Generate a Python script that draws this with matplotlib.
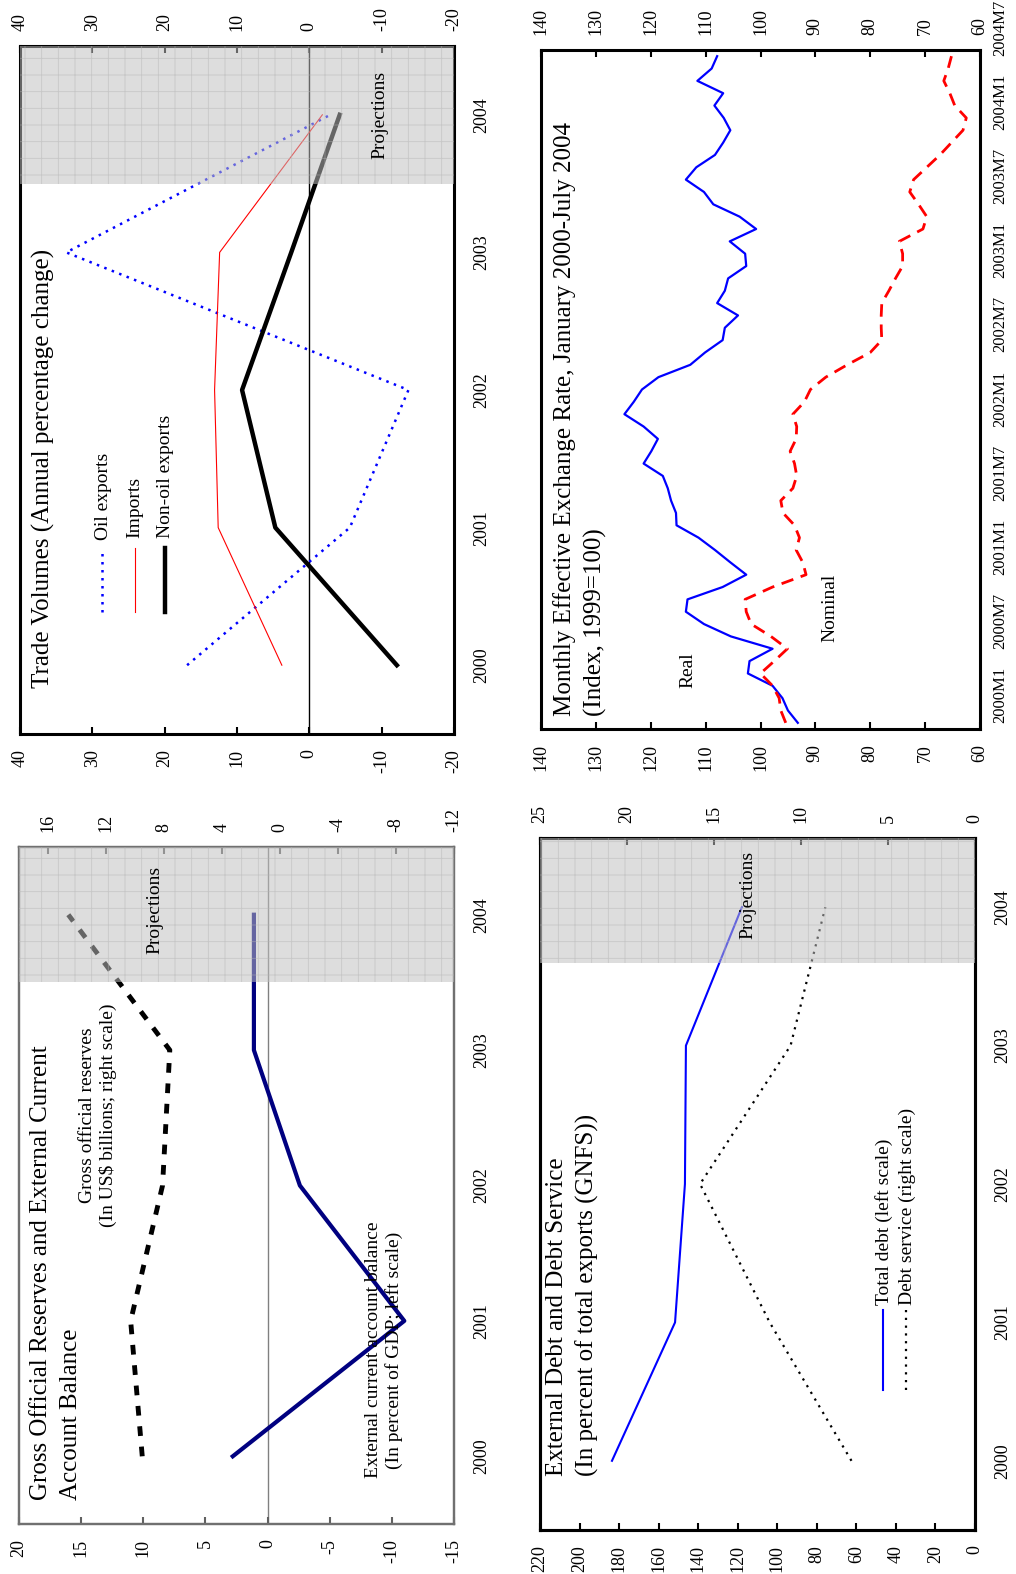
import matplotlib
matplotlib.use("Agg")
import matplotlib.pyplot as plt

plt.rcParams['font.family'] = ['Liberation Serif', 'DejaVu Serif']
plt.rcParams['hatch.linewidth'] = 0.6
plt.rcParams['axes.unicode_minus'] = False

W, H = 1016, 1574

#%%  data
years = [2000, 2001, 2002, 2003, 2004]
year_labels = ['2000', '2001', '2002', '2003', '2004']

# Trade volumes (annual percentage change)
oil_exports = [16.9, -5.6, -13.7, 33.6, -2.9]
imports = [3.8, 12.6, 13.1, 12.4, -1.8]
non_oil_exports = [-12.1, 4.7, 9.3, 2.5, -4.2]

# Monthly effective exchange rate, Jan 2000 - Jul 2004 (1999=100)
reer_real = [93.2, 95.0, 96.0, 97.8, 102.3, 102.0, 97.8, 105.4, 110.3, 113.6,
             113.3, 106.9, 102.6, 105.5, 108.3, 111.3, 115.3, 115.4, 116.3, 116.9,
             117.8, 121.3, 119.9, 118.7, 121.3, 124.8, 123.1, 121.6, 118.6, 112.8,
             110.1, 106.9, 106.5, 104.1, 107.9, 106.5, 105.9, 102.6, 102.8, 105.6,
             100.8, 103.8, 108.6, 110.3, 113.6, 111.7, 108.3, 106.8, 105.5, 106.7,
             108.4, 106.8, 111.5, 108.9, 107.9]
neer_nominal = [95.4, 96.3, 96.6, 97.8, 100.0, 97.5, 95.1, 98.1, 101.7, 102.6,
                102.8, 97.8, 91.7, 92.3, 93.5, 92.9, 93.8, 95.9, 96.3, 94.1,
                93.4, 93.8, 94.6, 93.5, 93.4, 94.1, 92.0, 90.9, 88.1, 84.2,
                80.0, 77.9, 78.0, 78.0, 77.9, 76.6, 75.4, 74.1, 74.1, 74.7,
                70.4, 69.7, 71.2, 72.8, 72.1, 69.7, 67.3, 65.2, 63.1, 62.5,
                64.6, 65.5, 66.6, 65.8, 65.2]
month_labels = ['2000M1', '2000M7', '2001M1', '2001M7', '2002M1',
                '2002M7', '2003M1', '2003M7', '2004M1', '2004M7']

# Reserves and current account
current_account = [2.8, -11.0, -2.6, 1.1, 1.1]   # percent of GDP, left scale
gross_reserves = [9.5, 10.3, 8.1, 7.6, 14.6]      # US$ billions, right scale

# External debt
total_debt = [183.6, 151.7, 146.7, 146.2, 117.9]  # left scale
debt_service = [7.1, 11.8, 15.8, 10.6, 8.6]       # right scale

fig = plt.figure(figsize=(W / 100, H / 100), dpi=100)


def box_axes(box):
    x0, y0, x1, y1 = box
    return fig.add_axes([x0 / W, 1 - y1 / H, (x1 - x0) / W, (y1 - y0) / H])


def fpos(box, X, Y):
    x0, y0, x1, y1 = box
    return (X - x0) / (x1 - x0), (y1 - Y) / (y1 - y0)


def put(ax, box, X, Y, s, **kw):
    fx, fy = fpos(box, X, Y)
    return ax.text(fx, fy, s, transform=ax.transAxes, rotation=90, zorder=5, **kw)


def key_line(ax, box, X, Y0, Y1, **kw):
    fx, fy0 = fpos(box, X, Y0)
    _, fy1 = fpos(box, X, Y1)
    ax.plot([fx, fx], [fy0, fy1], transform=ax.transAxes, clip_on=False, **kw)


def spines(ax, color='black', lw=2.0):
    for s in ax.spines.values():
        s.set_color(color)
        s.set_linewidth(lw)


def year_axis(ax, pad=14):
    ax.set_ylim(1999.5, 2004.5)
    ax.yaxis.tick_right()
    ax.set_yticks(years, labels=year_labels, rotation=90, va='center')
    ax.tick_params(axis='y', length=0, pad=pad, labelsize=13)


def value_ticks(ax, ticks, top=True, bottom=True, color='black'):
    ax.set_xticks(ticks)
    ax.tick_params(axis='x', direction='in', top=top, bottom=bottom,
                   labeltop=top, labelbottom=bottom, labelrotation=90,
                   length=5, width=1.5, pad=11, labelsize=13, color=color)


def projection(ax, start):
    ax.axhspan(start, 2004.5, facecolor='#c0c0c0', edgecolor='#b4b4b4', lw=0,
               hatch='+', alpha=0.53, zorder=3)


#%%  Trade volumes
boxA = (20, 46, 454, 734)
axA = box_axes(boxA)
axA.set_xlim(40, -20)
value_ticks(axA, range(-20, 41, 10))
year_axis(axA)
spines(axA, 'black', 2.2)
axA.axvline(0, color='black', lw=1.0, zorder=1)
axA.plot(oil_exports, years, color='#0000ff', lw=1.8, ls=(0, (1, 2.2)))
axA.plot(imports, years, color='red', lw=0.8)
axA.plot(non_oil_exports, years, color='black', lw=3.2)
projection(axA, 2003.5)

put(axA, boxA, 32, 688, 'Trade Volumes (Annual percentage change)',
    ha='left', va='bottom', fontsize=18)
key_line(axA, boxA, 102, 612, 548, color='#0000ff', lw=1.8, ls=(0, (1, 2.2)))
key_line(axA, boxA, 135, 612, 548, color='red', lw=0.8)
key_line(axA, boxA, 165, 612, 548, color='black', lw=3.2)
put(axA, boxA, 103, 540, 'Oil exports', ha='center', va='bottom', fontsize=14)
put(axA, boxA, 135, 538, 'Imports', ha='center', va='bottom', fontsize=14)
put(axA, boxA, 166, 538, 'Non-oil exports', ha='center', va='bottom', fontsize=14)
put(axA, boxA, 380, 115, 'Projections', ha='center', va='center', fontsize=14)

#%%  Monthly effective exchange rate
boxB = (541, 50, 980, 729)
axB = box_axes(boxB)
months = list(range(len(reer_real)))
axB.set_xlim(140, 60)
axB.set_ylim(-0.5, len(months) - 0.5)
value_ticks(axB, range(60, 141, 10))
axB.yaxis.tick_right()
axB.set_yticks(months[::6], labels=month_labels, rotation=90, va='bottom')
axB.tick_params(axis='y', length=0, pad=9, labelsize=12)
spines(axB, 'black', 2.2)
axB.plot(reer_real, months, color='#0000ff', lw=1.6)
axB.plot(neer_nominal, months, color='red', lw=2.0, ls=(0, (4.5, 2.8)))

put(axB, boxB, 553, 716,
    'Monthly Effective Exchange Rate, January 2000-July 2004\n(Index, 1999=100)',
    ha='left', va='bottom', fontsize=18, linespacing=1.45)
put(axB, boxB, 688, 670, 'Real', ha='center', va='center', fontsize=14)
put(axB, boxB, 830, 608, 'Nominal', ha='center', va='center', fontsize=14)

#%%  Gross official reserves and current account
boxC = (19, 847, 454, 1524)
axC = box_axes(boxC)
axC.set_xlim(20, -15)
value_ticks(axC, range(-15, 21, 5), top=False, bottom=True, color='#606060')
year_axis(axC)
axC2 = axC.twiny()
axC2.set_xlim(18, -12)
value_ticks(axC2, range(-12, 17, 4), top=True, bottom=False, color='#606060')
spines(axC, '#707070', 1.6)
spines(axC2, '#707070', 1.6)
axC.axvline(0, color='#808080', lw=1.0, zorder=1)
axC.plot(current_account, years, color='#000080', lw=3.0)
axC2.plot(gross_reserves, years, color='black', lw=3.5, ls=(0, (2, 2.2)))
projection(axC2, 2003.5)

put(axC2, boxC, 30, 1500,
    'Gross Official Reserves and External Current\nAccount Balance',
    ha='left', va='bottom', fontsize=18, linespacing=1.45)
put(axC2, boxC, 98, 1115, 'Gross official reserves\n(In US\\$ billions; right scale)',
    ha='center', va='center', fontsize=14, multialignment='center')
put(axC2, boxC, 384, 1350, 'External current account balance\n(In percent of GDP; left scale)',
    ha='center', va='center', fontsize=14, multialignment='center')
put(axC2, boxC, 155, 910, 'Projections', ha='center', va='center', fontsize=14)

#%%  External debt and debt service
boxD = (540, 838, 975, 1530)
axD = box_axes(boxD)
axD.set_xlim(220, 0)
value_ticks(axD, range(0, 221, 20), top=False, bottom=True)
year_axis(axD)
axD2 = axD.twiny()
axD2.set_xlim(25, 0)
value_ticks(axD2, range(0, 26, 5), top=True, bottom=False)
spines(axD, 'black', 2.2)
spines(axD2, 'black', 2.2)
axD.plot(total_debt, years, color='#0000ff', lw=1.5)
axD2.plot(debt_service, years, color='black', lw=1.6, ls=(0, (1, 2.5)))
projection(axD2, 2003.6)

put(axD2, boxD, 546, 1476,
    'External Debt and Debt Service\n(In percent of total exports (GNFS))',
    ha='left', va='bottom', fontsize=18, linespacing=1.45)
key_line(axD2, boxD, 883, 1390, 1310, color='#0000ff', lw=1.5)
key_line(axD2, boxD, 906, 1390, 1310, color='black', lw=1.6, ls=(0, (1, 2.5)))
put(axD2, boxD, 884, 1305, 'Total debt (left scale)', ha='center', va='bottom', fontsize=14)
put(axD2, boxD, 907, 1305, 'Debt service (right scale)', ha='center', va='bottom', fontsize=14)
put(axD2, boxD, 748, 895, 'Projections', ha='center', va='center', fontsize=14)

fig.savefig('out.png', dpi=100)
